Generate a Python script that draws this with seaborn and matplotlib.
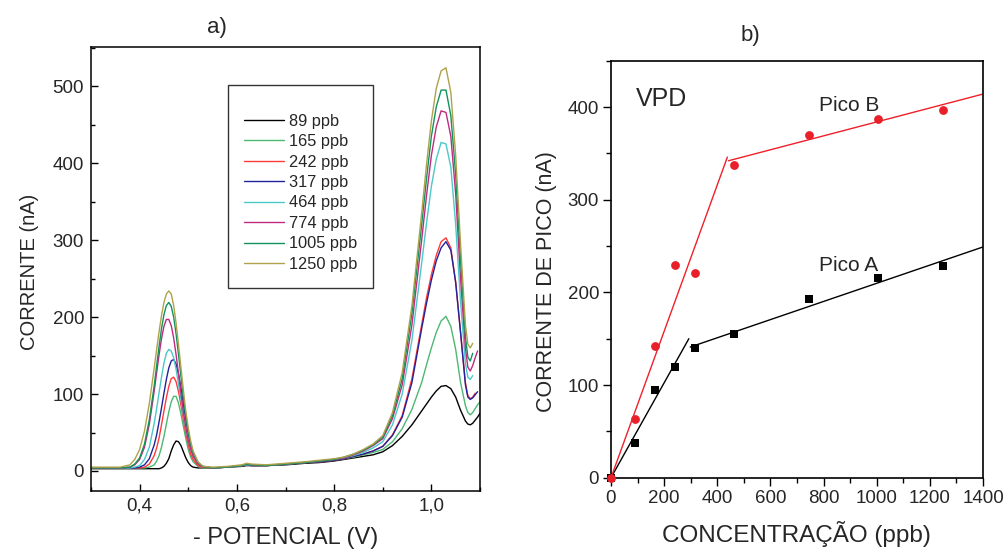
import numpy as np
import pandas as pd
import matplotlib
matplotlib.use("Agg")
import matplotlib.pyplot as plt
from matplotlib.ticker import MultipleLocator, FuncFormatter
from matplotlib import font_manager
import seaborn as sns

# ---------------- data: panel a) voltammograms ----------------
potential = [0.30, 0.33, 0.36, 0.38, 0.39, 0.40, 0.41, 0.42,
             0.43, 0.435, 0.44, 0.445, 0.45, 0.455, 0.46, 0.465, 0.47, 0.475,
             0.48, 0.485, 0.49, 0.495, 0.50, 0.505, 0.51,
             0.52, 0.53,
             0.55, 0.58, 0.61, 0.62, 0.63, 0.66, 0.70, 0.74, 0.77,
             0.80, 0.82, 0.84, 0.86, 0.88, 0.90, 0.92, 0.94, 0.96, 0.98,
             0.99, 1.00, 1.01, 1.02, 1.03, 1.04, 1.05, 1.06, 1.07,
             1.075, 1.08, 1.085, 1.09, 1.095, 1.10]
nan = np.nan
i_89 = [3, 3, 3, 3, 3, 3, 3, 3,
        3, 3, 3, 4, 6, 10, 16, 26, 34, 39, 38, 33, 25, 17, 11, 7, 5,
        4, 4,
        4, 5, 6, 7, 7, 7, 8, 10, 11,
        13, 15, 17, 19, 21, 25, 33, 45, 60, 78,
        87, 96, 104, 110, 111, 107, 96, 79, 65,
        61, 60, 62, 66, 70, 75]
i_165 = [4, 4, 4, 4, 4, 4, 4, 5,
         8, 13, 20, 31, 45, 61, 77, 90, 97, 97, 88, 74, 58, 42, 28, 18, 12,
         6, 4,
         4, 5, 7, 8, 7, 7, 9, 11, 12,
         14, 16, 18, 21, 24, 28, 38, 55, 80, 115,
         138, 160, 180, 195, 201, 188, 158, 115, 85,
         76, 73, 76, 81, 86, 90]
i_242 = [4, 4, 4, 4, 4, 4, 5, 9,
         20, 30, 43, 60, 78, 95, 110, 120, 122, 116, 103, 86, 67, 49, 34, 22, 15,
         7, 5,
         4, 5, 7, 8, 7, 7, 9, 11, 12,
         14, 16, 19, 22, 26, 32, 47, 72, 120, 190,
         225, 255, 280, 298, 303, 290, 245, 180, 115,
         98, 94, 96, 101, nan, nan]
i_317 = [4, 4, 4, 4, 4, 5, 8, 16,
         34, 47, 64, 82, 101, 119, 134, 143, 145, 139, 126, 108, 87, 67, 48, 34, 23,
         10, 6,
         4, 5, 7, 8, 7, 7, 9, 11, 12,
         14, 16, 19, 22, 26, 32, 46, 70, 115, 185,
         218, 248, 273, 290, 298, 287, 245, 180, 112,
         96, 93, 95, 99, 103, nan]
i_464 = [4, 4, 4, 4, 5, 7, 15, 31,
         62, 81, 102, 122, 140, 153, 158, 156, 147, 132, 113, 93, 73, 55, 40, 29, 20,
         10, 6,
         4, 5, 7, 8, 8, 7, 9, 11, 13,
         15, 17, 20, 24, 30, 38, 60, 100, 170, 270,
         322, 370, 405, 427, 425, 395, 320, 220, 140,
         122, 119, 124, nan, nan, nan]
i_774 = [4, 4, 4, 5, 8, 15, 31, 61,
         104, 128, 151, 172, 188, 197, 197, 189, 173, 151, 126, 101, 77, 57, 40, 28, 19,
         9, 5,
         4, 5, 7, 9, 8, 7, 9, 11, 13,
         15, 17, 21, 26, 33, 42, 68, 112, 190, 300,
         358, 410, 447, 468, 466, 435, 360, 250, 160,
         135, 130, 137, 147, 156, nan]
i_1005 = [4, 4, 4, 5, 9, 17, 35, 67,
          111, 137, 162, 185, 203, 215, 219, 214, 200, 178, 151, 123, 95, 71, 51, 35, 24,
          11, 6,
          4, 5, 7, 9, 8, 7, 9, 11, 13,
          15, 18, 22, 27, 34, 44, 72, 120, 205, 320,
          380, 435, 473, 495, 495, 462, 385, 275, 175,
          148, 143, 153, nan, nan, nan]
i_1250 = [5, 5, 5, 8, 15, 28, 52, 88,
          134, 158, 181, 202, 219, 230, 234, 230, 215, 192, 164, 134, 105, 78, 56, 39, 26,
          12, 6,
          5, 6, 8, 10, 9, 8, 10, 12, 14,
          16, 18, 22, 28, 35, 46, 76, 128, 215, 335,
          398, 455, 497, 520, 524, 492, 410, 295, 190,
          165, 160, 166, nan, nan, nan]
series_labels = ["89 ppb", "165 ppb", "242 ppb", "317 ppb",
                 "464 ppb", "774 ppb", "1005 ppb", "1250 ppb"]
series_values = [i_89, i_165, i_242, i_317, i_464, i_774, i_1005, i_1250]
series_colors = ["#000000", "#4cb870", "#ff3a3a", "#22229a",
                 "#4cc8c8", "#c02a80", "#12925c", "#b0a24a"]

# ---------------- data: panel b) calibration ----------------
conc_A = [0, 89, 165, 242, 317, 464, 744, 1005, 1250]
peak_A = [0, 37, 95, 119, 140, 155, 193, 215, 228]
conc_B = [0, 89, 165, 242, 317, 464, 744, 1005, 1250]
peak_B = [0, 63, 142, 229, 221, 337, 370, 387, 397]
fitA_low_x, fitA_low_y = [0, 293], [0, 150]
fitA_high_x, fitA_high_y = [298, 1400], [141, 249]
fitB_low_x, fitB_low_y = [0, 438], [0, 346]
fitB_high_x, fitB_high_y = [442, 1400], [342, 414]

# ---------------- style ----------------
sns.set_style("white")
plt.rcParams["font.family"] = ["Liberation Sans", "DejaVu Sans"]
names = {f.name for f in font_manager.fontManager.ttflist}
narrow = "Liberation Sans Narrow" in names
label_family = ["Liberation Sans Narrow", "Liberation Sans"] if narrow else ["Liberation Sans"]

fig = plt.figure(figsize=(10.07, 5.49), dpi=100)
W, H = 1007, 549
axA = fig.add_axes([91 / W, 1 - 491 / H, (480 - 91) / W, (491 - 47) / H])
axB = fig.add_axes([611 / W, 1 - 477.7 / H, (983 - 611) / W, (477.7 - 60.7) / H])

# ---------------- panel a ----------------
for lab, vals, col in zip(series_labels, series_values, series_colors):
    df = pd.DataFrame({"E": potential, "I": vals}).dropna()
    sns.lineplot(data=df, x="E", y="I", ax=axA, color=col, lw=1.0,
                 label=lab, sort=False, estimator=None)

axA.set_xlim(0.3, 1.1)
axA.set_ylim(-26, 551)
axA.xaxis.set_major_locator(MultipleLocator(0.2))
axA.xaxis.set_minor_locator(MultipleLocator(0.1))
axA.yaxis.set_major_locator(MultipleLocator(100))
axA.yaxis.set_minor_locator(MultipleLocator(50))
axA.xaxis.set_major_formatter(FuncFormatter(lambda v, p: f"{v:.1f}".replace(".", ",")))
axA.tick_params(which="both", direction="in", bottom=True, left=True,
                top=False, right=False, labelsize=13.5, width=1.0, color="black")
axA.tick_params(which="major", length=5, pad=5)
axA.tick_params(which="minor", length=3)
for s in axA.spines.values():
    s.set_color("black")
    s.set_linewidth(1.1)
axA.set_xlabel("- POTENCIAL (V)", fontsize=17)
axA.set_ylabel("CORRENTE (nA)", fontsize=17.5 if narrow else 14.5, family=label_family)
axA.xaxis.set_label_coords(0.5008, -0.082)
axA.yaxis.set_label_coords(-0.134, 0.493)
leg = axA.legend(loc="upper left", bbox_to_anchor=(0.352, 0.9144), borderaxespad=0,
                 fontsize=11.8, frameon=True, fancybox=False, shadow=False,
                 handlelength=2.4, handletextpad=0.3, labelspacing=0.33,
                 borderpad=1.0, title=" ", title_fontsize=6)
leg.get_frame().set_edgecolor("black")
leg.get_frame().set_linewidth(1.0)
for ln in leg.get_lines():
    ln.set_linewidth(1.0)

# ---------------- panel b ----------------
sns.lineplot(x=fitA_low_x, y=fitA_low_y, ax=axB, color="black", lw=1.0, estimator=None)
sns.lineplot(x=fitA_high_x, y=fitA_high_y, ax=axB, color="black", lw=1.0, estimator=None)
sns.lineplot(x=fitB_low_x, y=fitB_low_y, ax=axB, color="#f0202a", lw=1.0, estimator=None)
sns.lineplot(x=fitB_high_x, y=fitB_high_y, ax=axB, color="#f0202a", lw=1.0, estimator=None)
sns.scatterplot(x=conc_A, y=peak_A, ax=axB, marker="s", color="black", s=30,
                linewidth=0, clip_on=False, zorder=4)
sns.scatterplot(x=conc_B, y=peak_B, ax=axB, marker="o", color="#e8202a", s=40,
                linewidth=0, clip_on=False, zorder=5)

axB.set_xlim(0, 1400)
axB.set_ylim(0, 450)
axB.xaxis.set_major_locator(MultipleLocator(200))
axB.xaxis.set_minor_locator(MultipleLocator(100))
axB.yaxis.set_major_locator(MultipleLocator(100))
axB.yaxis.set_minor_locator(MultipleLocator(50))
axB.tick_params(which="both", direction="out", bottom=True, left=True,
                top=False, right=False, labelsize=13.5, width=1.0, color="black")
axB.tick_params(which="major", length=6, pad=2.5)
axB.tick_params(which="minor", length=3.5)
for s in axB.spines.values():
    s.set_color("black")
    s.set_linewidth(1.2)
axB.set_xlabel("CONCENTRAÇÃO (ppb)", fontsize=17.5)
axB.set_ylabel("CORRENTE DE PICO (nA)", fontsize=19 if narrow else 15.5, family=label_family)
axB.xaxis.set_label_coords(0.499, -0.104)
axB.yaxis.set_label_coords(-0.146, 0.47)
axB.text(94, 409, "VPD", fontsize=18, va="center", ha="left")
axB.text(783, 402, "Pico B", fontsize=15, va="center", ha="left")
axB.text(783, 229, "Pico A", fontsize=15, va="center", ha="left")
if axB.get_legend() is not None:
    axB.get_legend().remove()

fig.text(217 / W, 1 - 28 / H, "a)", fontsize=16, ha="center", va="center")
fig.text(750 / W, 1 - 35 / H, "b)", fontsize=16, ha="center", va="center")

fig.savefig("out.png", dpi=100, facecolor="white")
